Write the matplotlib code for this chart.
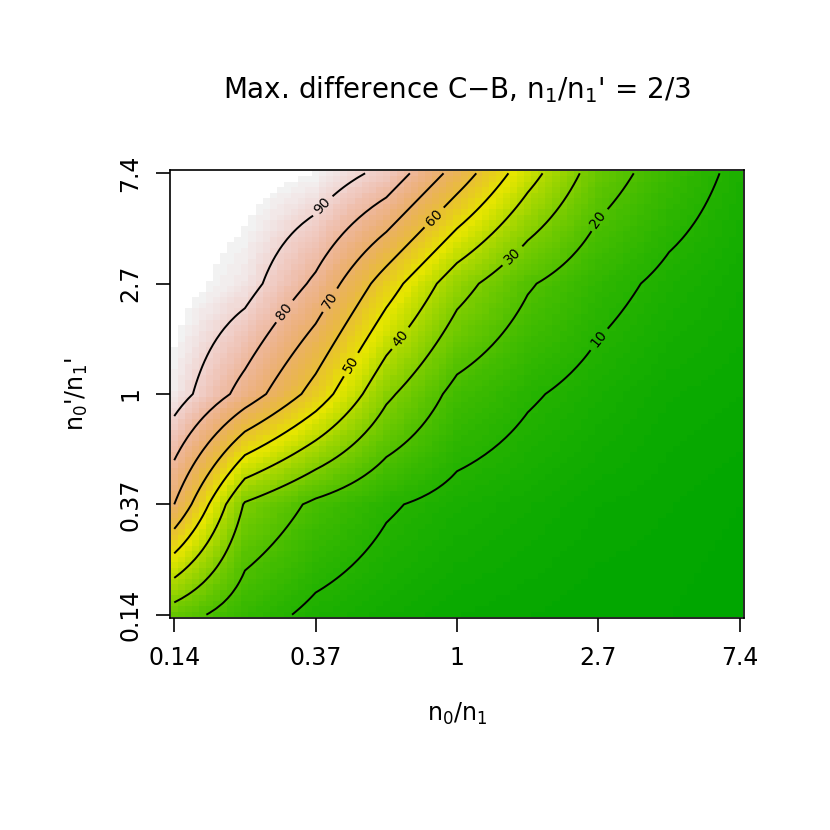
import numpy as np
import matplotlib
matplotlib.use("Agg")
import matplotlib.pyplot as plt
import colorsys
from matplotlib.colors import ListedColormap

# grid (log scale) and values
x_grid = [-2.0, -1.5, -1.0, -0.5, 0.0, 0.5, 1.0, 1.5, 2.0]
y_grid = [-2.0, -1.0, 0.0, 1.0, 2.0]
values = [
    [25, 14, 8, 5, 3, 2, 1, 1, 0],
    [70, 29, 18, 11, 7, 5, 3, 2, 1],
    [95, 76, 56, 32, 17, 11, 7, 4, 3],
    [100, 94, 78, 55, 34, 21, 13, 8, 5],
    [100, 100, 97, 87, 66, 44, 25, 15, 8],
]
levels = [10, 20, 30, 40, 50, 60, 70, 80, 90]
tick_vals = [-2, -1, 0, 1, 2]
tick_labels = ["0.14", "0.37", "1", "2.7", "7.4"]

# terrain.colors(100) as in R
def terrain(n):
    k = n // 2
    cols = []
    for i in range(k):
        t = i / (k - 1) if k > 1 else 0
        h = 4/12 + (2/12 - 4/12) * t
        v = 0.65 + (0.9 - 0.65) * t
        cols.append(colorsys.hsv_to_rgb(h, 1, v))
    m = n - k
    for i in range(m):
        t = i / (m - 1)
        h = 2/12 * (1 - t)
        s = 1 - t
        v = 0.9 + 0.05 * t
        cols.append(colorsys.hsv_to_rgb(h, s, v))
    return ListedColormap(cols)

cmap = terrain(100)
cmap.set_over("white")

V = np.array(values, float)
xf = np.linspace(-2, 2, 81)
yf = np.linspace(-2, 2, 81)
rows = np.array([np.interp(xf, x_grid, r) for r in V])
Z = np.array([[np.interp(yy, y_grid, rows[:, j]) for j in range(len(xf))] for yy in yf])

fig = plt.figure(figsize=(8.3, 8.3), dpi=100)
ax = fig.add_axes([170/830, 212/830, 574/830, 448/830])
ax.pcolormesh(xf, yf, Z, cmap=cmap, vmin=0, vmax=97, shading="nearest")
cs = ax.contour(xf, yf, Z, levels=levels, colors="black", linewidths=1.4)
ax.clabel(cs, fmt="%d", fontsize=10, inline=True)
ax.set_xlim(-2.03, 2.03)
ax.set_ylim(-2.03, 2.03)
ax.set_xticks(tick_vals)
ax.set_xticklabels(tick_labels, fontsize=17)
ax.set_yticks(tick_vals)
ax.set_yticklabels(tick_labels, fontsize=17, rotation=90, va="center")
ax.tick_params(length=10, width=1.2, pad=10)
for s in ax.spines.values():
    s.set_linewidth(1.2)
ax.set_xlabel("n$_0$/n$_1$", fontsize=17, labelpad=22)
ax.set_ylabel("n$_0$'/n$_1$'", fontsize=17, labelpad=20)
fig.text(457/830, 1 - 90/830, "Max. difference C\u2212B, n$_1$/n$_1$' = 2/3",
         fontsize=20, ha="center", va="center")
fig.savefig("out.png")
